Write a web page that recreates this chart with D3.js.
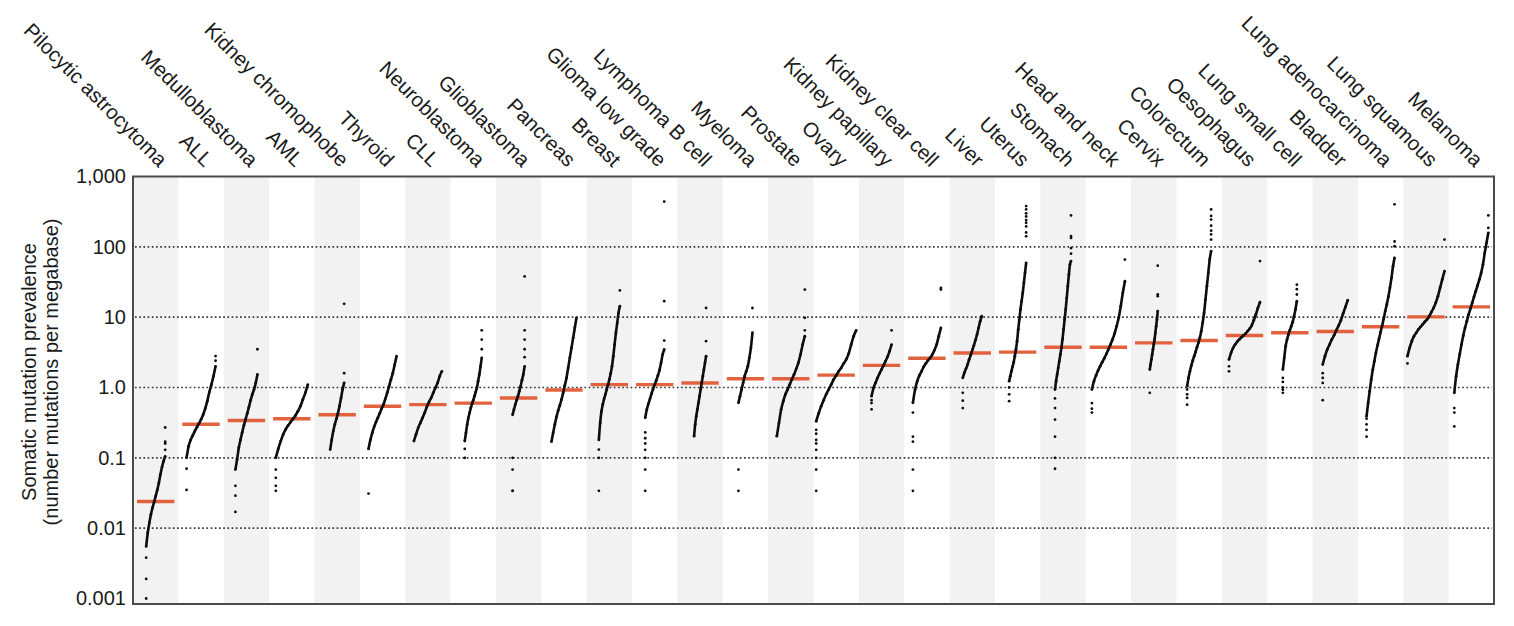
<!DOCTYPE html>
<html>
<head>
<meta charset="utf-8">
<script src="https://cdn.jsdelivr.net/npm/d3@7"></script>
<style>
  body { margin: 0; background: #fff; }
  svg { display: block; }
  text { font-family: "Liberation Sans", Arial, Helvetica, sans-serif; fill: #1a1a1a; }
</style>
</head>
<body>
<svg id="chart" width="1514" height="626"></svg>
<script>
// cancer types, left to right
const cancerTypes = [
  'Pilocytic astrocytoma', 'ALL', 'Medulloblastoma', 'AML', 'Kidney chromophobe',
  'Thyroid', 'CLL', 'Neuroblastoma', 'Glioblastoma', 'Pancreas',
  'Breast', 'Glioma low grade', 'Lymphoma B cell', 'Myeloma', 'Prostate',
  'Ovary', 'Kidney papillary', 'Kidney clear cell', 'Liver', 'Uterus',
  'Stomach', 'Head and neck', 'Cervix', 'Colorectum', 'Oesophagus',
  'Lung small cell', 'Bladder', 'Lung adenocarcinoma', 'Lung squamous', 'Melanoma'
];

// median mutations per megabase (red bars)
const medians = [0.024, 0.30, 0.34, 0.36, 0.41, 0.54, 0.57, 0.6, 0.71, 0.92,
  1.1, 1.1, 1.16, 1.33, 1.33, 1.5, 2.06, 2.6, 3.1, 3.18,
  3.74, 3.74, 4.31, 4.66, 5.49, 5.99, 6.26, 7.29, 10.1, 14.0];

// isolated low samples (drawn at the left end of each column)
const lowTail = [
  [0.001, 0.0019, 0.0038], [0.035, 0.07], [0.017, 0.029, 0.04], [0.034, 0.04, 0.052, 0.068], [],
  [0.031], [], [0.1, 0.134], [0.034, 0.034, 0.068, 0.1], [],
  [0.034, 0.1, 0.131], [0.034, 0.068, 0.1, 0.13, 0.16, 0.19, 0.23], [], [0.034, 0.068], [],
  [0.034, 0.068, 0.1, 0.13, 0.16, 0.18, 0.22, 0.25], [0.49, 0.6, 0.66], [0.034, 0.068, 0.17, 0.2, 0.44], [0.51, 0.65, 0.84], [0.64, 0.8, 1.0],
  [0.07, 0.1, 0.2, 0.35, 0.51, 0.7], [0.44, 0.5, 0.6], [0.84], [0.57, 0.71, 0.8, 0.94], [1.7, 2.0],
  [0.84, 0.93, 1.0, 1.2, 1.37], [0.66, 1.16, 1.37, 1.6], [0.2, 0.25, 0.3, 0.36], [2.2], [0.28, 0.44, 0.51]
];

// sorted samples read at evenly spaced ranks along each column
const curves = [
  [0.0055, 0.0086, 0.0119, 0.0157, 0.0195, 0.0235, 0.0286, 0.035, 0.044, 0.058, 0.074, 0.09, 0.105],
  [0.1, 0.146, 0.18, 0.208, 0.24, 0.273, 0.308, 0.351, 0.41, 0.5, 0.64, 0.86, 1.1, 1.45, 2.0],
  [0.068, 0.095, 0.139, 0.18, 0.23, 0.288, 0.351, 0.43, 0.53, 0.66, 0.8, 0.94, 1.16, 1.53],
  [0.1, 0.134, 0.173, 0.215, 0.253, 0.288, 0.322, 0.358, 0.4, 0.46, 0.543, 0.675, 0.84, 1.1],
  [0.131, 0.18, 0.24, 0.298, 0.358, 0.43, 0.543, 0.71, 0.937, 1.165],
  [0.134, 0.18, 0.227, 0.276, 0.322, 0.37, 0.43, 0.5, 0.573, 0.69, 0.84, 1.04, 1.3, 1.6, 2.1, 2.79],
  [0.173, 0.215, 0.267, 0.314, 0.37, 0.437, 0.53, 0.62, 0.71, 0.84, 0.99, 1.165, 1.45, 1.7],
  [0.173, 0.227, 0.298, 0.37, 0.437, 0.514, 0.586, 0.66, 0.753, 0.86, 0.99, 1.23, 1.53, 2.0, 2.64],
  [0.41, 0.487, 0.573, 0.66, 0.753, 0.887, 1.04, 1.27, 1.53, 2.0],
  [0.17, 0.227, 0.298, 0.382, 0.47, 0.555, 0.675, 0.84, 1.07, 1.37, 1.9, 2.64, 3.66, 5.08, 7.06, 9.8],
  [0.18, 0.314, 0.46, 0.573, 0.69, 0.8, 0.937, 1.1, 1.3, 1.58, 2.0, 2.79, 4.08, 5.98, 8.3, 11.5, 14.3],
  [0.37, 0.487, 0.586, 0.69, 0.82, 0.96, 1.1, 1.27, 1.48, 1.76, 2.24, 2.94, 3.47],
  [0.203, 0.298, 0.391, 0.487, 0.605, 0.753, 0.937, 1.165, 1.45, 1.8, 2.24, 2.79],
  [0.605, 0.753, 0.937, 1.165, 1.45, 1.7, 2.0, 2.64, 3.66, 6.0],
  [0.203, 0.314, 0.487, 0.64, 0.8, 0.937, 1.1, 1.3, 1.53, 1.84, 2.24, 2.94, 4.08, 5.37],
  [0.33, 0.43, 0.543, 0.66, 0.8, 0.937, 1.1, 1.3, 1.48, 1.7, 1.9, 2.2, 2.5, 3.04, 4.08, 5.37, 6.5],
  [0.753, 0.99, 1.165, 1.37, 1.58, 1.8, 2.06, 2.37, 2.73, 3.28, 4.08],
  [0.605, 0.937, 1.23, 1.48, 1.7, 1.97, 2.2, 2.42, 2.64, 2.94, 3.4, 4.08, 5.37, 7.06],
  [1.37, 1.62, 1.84, 2.12, 2.5, 2.88, 3.4, 3.95, 4.71, 5.67, 7.06, 8.76, 10.3],
  [1.23, 1.45, 1.7, 1.97, 2.29, 2.79, 3.47, 4.55, 6.68, 9.27, 12.9, 16.9, 22.2, 30.8, 42.7, 59.2],
  [0.937, 1.23, 1.53, 1.9, 2.37, 2.94, 3.66, 4.82, 6.68, 9.27, 12.9, 18.8, 27.6, 40.4, 56, 62.7],
  [0.937, 1.23, 1.48, 1.74, 2.0, 2.29, 2.6, 3.0, 3.47, 4.08, 4.82, 5.85, 7.44, 9.8, 14.3, 22.2, 32.4],
  [1.8, 2.12, 2.5, 2.94, 3.47, 4.08, 4.82, 5.98, 7.44, 9.27, 12.2],
  [1.04, 1.37, 1.7, 2.06, 2.42, 2.79, 3.21, 3.74, 4.32, 5.08, 6.33, 8.3, 11.5, 17.8, 27.6, 42.7, 66, 86.8],
  [2.5, 3.11, 3.66, 4.08, 4.5, 4.82, 5.15, 5.49, 5.85, 6.33, 6.84, 7.6, 9.06, 10.9, 13.5, 16.3],
  [1.8, 2.64, 3.87, 4.82, 5.67, 6.53, 7.44, 8.5, 10.3, 12.9, 16.9],
  [2.12, 2.79, 3.47, 4.08, 4.82, 5.54, 6.53, 7.6, 9.06, 11.3, 14.0, 17.4],
  [0.391, 0.605, 0.887, 1.3, 1.8, 2.37, 3.11, 3.95, 4.92, 6.12, 7.6, 9.47, 12.2, 15.2, 19.5, 26.1, 36.2, 52.9, 69.8],
  [2.79, 3.66, 4.55, 5.37, 5.98, 6.68, 7.3, 7.88, 8.6, 9.27, 10.3, 11.8, 13.5, 16.0, 19.9, 26.1, 34.4, 45],
  [0.84, 1.45, 2.12, 2.94, 4.08, 5.49, 7.06, 8.76, 10.9, 13.2, 16.0, 19.5, 23.4, 28.2, 34.4, 42.7, 56, 82, 114, 158]
];

// isolated high samples (drawn at the right end of each column)
const highTail = [
  [0.13, 0.16, 0.17, 0.27], [2.4, 2.8], [3.5], [], [1.6, 15.5],
  [], [], [3.5, 4.8, 6.5], [2.7, 3.5, 4.8, 6.5, 38], [],
  [24], [4.65, 16.9, 440], [4.55, 13.5], [13.5], [6.5, 9.8, 24.7],
  [], [6.5], [24.7, 26], [], [141, 160, 195, 220, 240, 270, 300, 340, 380],
  [80, 96, 134, 142, 280], [66], [19.9, 21, 54], [127, 150, 170, 200, 244, 275, 340], [62.7],
  [21, 25, 29], [], [102, 119, 402], [127], [186, 280]
];

const yTicks = [1000, 100, 10, 1, 0.1, 0.01, 0.001];
const yTickLabels = ['1,000', '100', '10', '1.0', '0.1', '0.01', '0.001'];
const gridValues = [100, 10, 1, 0.1, 0.01];

// layout: horizontal spread (px) of each column's dots
const dotSpread = [19, 29, 22, 32, 14, 28, 28, 17, 12, 25, 21, 19, 12, 14, 28,
  40, 20, 28, 19, 17, 16, 33, 8, 24, 31, 14, 25, 28, 37, 34];

const plot = { left: 133, right: 1494, top: 176.5, bottom: 604 };
const labelSize = '20.5px';
const tickSize = '20px';
const medianColor = '#e2623d';

const svg = d3.select('#chart');

const x = d3.scaleBand().domain(cancerTypes).range([plot.left, plot.right]);
const y = d3.scaleLog().domain([0.001, 1000]).range([598.5, 176.5]);
const bw = x.bandwidth();

// alternating column shading
svg.append('g')
  .selectAll('rect')
  .data(cancerTypes.filter((d, i) => i % 2 === 0))
  .join('rect')
  .attr('x', d => x(d))
  .attr('y', plot.top)
  .attr('width', bw)
  .attr('height', plot.bottom - plot.top)
  .attr('fill', '#f2f2f2');

// dotted grid
svg.append('g')
  .selectAll('line')
  .data(gridValues)
  .join('line')
  .attr('x1', plot.left + 2)
  .attr('x2', plot.right - 2)
  .attr('y1', d => y(d))
  .attr('y2', d => y(d))
  .attr('stroke', '#3a3a3a')
  .attr('stroke-width', 1.7)
  .attr('stroke-dasharray', '1.7,2.5');

// medians
svg.append('g')
  .selectAll('line')
  .data(cancerTypes)
  .join('line')
  .attr('x1', d => x(d) + 4)
  .attr('x2', d => x(d) + bw - 4)
  .attr('y1', (d, i) => y(medians[i]))
  .attr('y2', (d, i) => y(medians[i]))
  .attr('stroke', medianColor)
  .attr('stroke-width', 3.4);

// samples
const cols = svg.append('g')
  .selectAll('g')
  .data(cancerTypes)
  .join('g');

cols.each(function (name, i) {
  const g = d3.select(this);
  const cx = x(name) + bw / 2;
  const half = dotSpread[i] / 2;
  const vals = curves[i];
  const xs = d3.scaleLinear().domain([0, vals.length - 1]).range([cx - half, cx + half]);

  g.append('path')
    .datum(vals)
    .attr('fill', 'none')
    .attr('stroke', '#0d0d0d')
    .attr('stroke-width', 2.6)
    .attr('stroke-linejoin', 'round')
    .attr('d', d3.line().x((d, j) => xs(j)).y(d => y(d)).curve(d3.curveMonotoneX));

  const pts = vals.map((v, j) => [xs(j), v])
    .concat(lowTail[i].map(v => [cx - half, v]))
    .concat(highTail[i].map(v => [cx + half, v]));

  g.selectAll('circle')
    .data(pts)
    .join('circle')
    .attr('cx', d => d[0])
    .attr('cy', d => y(d[1]))
    .attr('r', 1.4)
    .attr('fill', '#0d0d0d');
});

// frame
svg.append('rect')
  .attr('x', plot.left)
  .attr('y', plot.top)
  .attr('width', plot.right - plot.left)
  .attr('height', plot.bottom - plot.top)
  .attr('fill', 'none')
  .attr('stroke', '#4a4a4a')
  .attr('stroke-width', 2);

// y axis labels
const yAxis = svg.append('g')
  .attr('transform', `translate(${plot.left},0)`)
  .call(d3.axisLeft(y).tickValues(yTicks).tickFormat((d, i) => yTickLabels[i]).tickSize(0).tickPadding(7));
yAxis.select('.domain').remove();
yAxis.selectAll('text')
  .style('font-size', tickSize)
  .style('font-family', '"Liberation Sans", Arial, sans-serif')
  .attr('fill', '#1a1a1a');

// y axis title
svg.append('text')
  .attr('transform', 'translate(36,372) rotate(-90)')
  .attr('text-anchor', 'middle')
  .style('font-size', tickSize)
  .text('Somatic mutation prevalence');
svg.append('text')
  .attr('transform', 'translate(58,372) rotate(-90)')
  .attr('text-anchor', 'middle')
  .style('font-size', tickSize)
  .text('(number mutations per megabase)');

// column labels
svg.append('g')
  .selectAll('text')
  .data(cancerTypes)
  .join('text')
  .attr('transform', d => `translate(${x(d) + bw / 2 + 3},168) rotate(45)`)
  .attr('text-anchor', 'end')
  .style('font-size', labelSize)
  .text(d => d);
</script>
</body>
</html>
